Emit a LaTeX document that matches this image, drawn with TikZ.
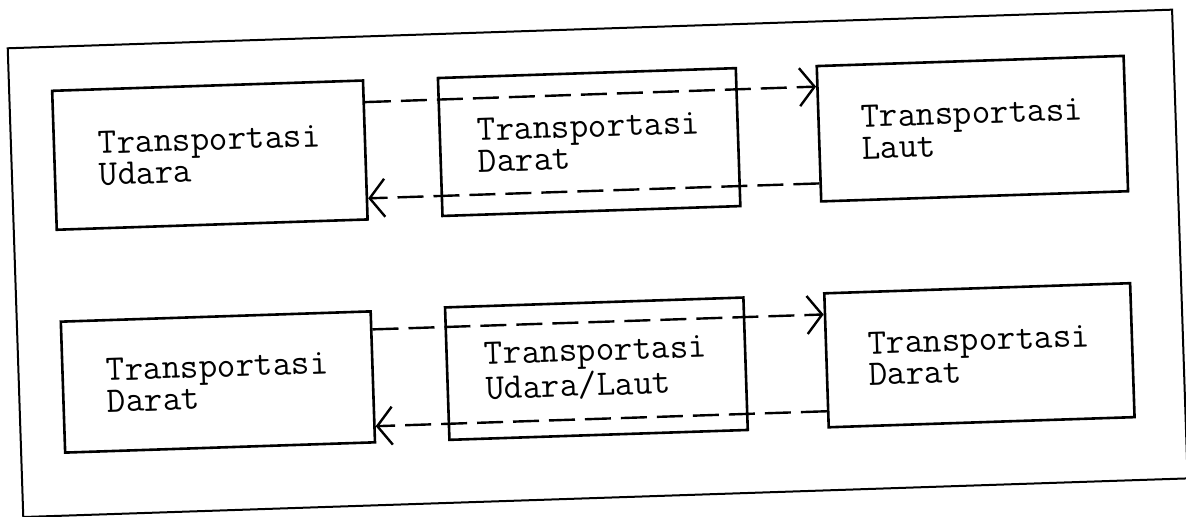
\documentclass[tikz,border=0pt]{standalone}
\usetikzlibrary{arrows.meta,calc}
\begin{document}
\begin{tikzpicture}[x=0.5pt,y=-0.5pt,
  box/.style={draw, line width=1.3pt, rectangle, inner sep=0pt, align=left,
    font=\fontsize{18}{15.8}\selectfont\ttfamily, transform shape},
  dline/.style={line width=1.2pt, dash pattern=on 13pt off 5pt},
  barb/.style={-{Straight Barb[length=7.5pt,width=19pt]}},
  frameline/.style={line width=1pt}]
\useasboundingbox (0,0) rectangle (1186,517);
\begin{scope}[rotate around={1.9:(593,258.5)}]
  \draw[frameline] (15,29) rectangle (1180,498);
  % top row
  \node[box, minimum width=155.5pt, minimum height=69.5pt] (b1) at (213.5,142.5) {Transportasi\\Udara};
  \node[box, minimum width=149pt, minimum height=69pt] (b2) at (593,142) {Transportasi\\Darat};
  \node[box, minimum width=153.5pt, minimum height=67.7pt] (b3) at (976.5,141.3) {Transportasi\\Laut};
  % bottom row
  \node[box, minimum width=155pt, minimum height=65.5pt] (b4) at (214,369.5) {Transportasi\\Darat};
  \node[box, minimum width=149.25pt, minimum height=66.25pt] (b5) at (592.75,368.75) {Transportasi\\Udara/Laut};
  \node[box, minimum width=153pt, minimum height=67pt] (b6) at (976,368) {Transportasi\\Darat};
  % connectors
  \draw[dline, barb] ($(b1.north east)!0.162!(b1.south east)$) -- ($(b3.north west)!0.158!(b3.south west)$);
  \draw[dline, barb] ($(b3.north west)!0.86!(b3.south west)$) -- ($(b1.north east)!0.842!(b1.south east)$);
  \draw[dline, barb] ($(b4.north east)!0.145!(b4.south east)$) -- ($(b6.north west)!0.164!(b6.south west)$);
  \draw[dline, barb] ($(b6.north west)!0.873!(b6.south west)$) -- ($(b4.north east)!0.87!(b4.south east)$);
\end{scope}
\end{tikzpicture}
\end{document}
